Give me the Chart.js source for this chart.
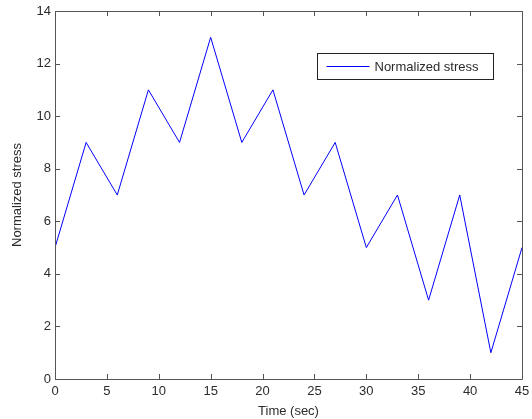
<!DOCTYPE html>
<html lang="en">
<head>
	<meta charset="utf-8">
	<title>Normalized stress</title>
	<script src="https://cdn.jsdelivr.net/npm/chart.js"></script>
	<style>
		html, body { margin: 0; padding: 0; background: #fff; }
		#wrap { width: 532px; height: 419px; }
	</style>
</head>
<body>
	<div id="wrap"><canvas id="stress"></canvas></div>
	<script>
		// sample times and stress readings
		const timeSec = [0, 3, 6, 9, 12, 15, 18, 21, 24, 27, 30, 33, 36, 39, 42, 45]
		const stressValues = [5, 9, 7, 11, 9, 13, 9, 11, 7, 9, 5, 7, 3, 7, 1, 5]
		const xTicks = [0, 5, 10, 15, 20, 25, 30, 35, 40, 45]
		const yTicks = [0, 2, 4, 6, 8, 10, 12, 14]

		const axisColor = '#555'
		const textColor = '#2b2b2b'
		const fontFamily = '"Liberation Sans", Arial, sans-serif'

		// box around the plot with little inward ticks on every side, plus the legend inside
		const frame = {
			id: 'frame',
			afterDatasetsDraw(chart) {
				const { ctx, chartArea: a, scales } = chart
				const tl = 5
				ctx.save()
				ctx.strokeStyle = axisColor
				ctx.lineWidth = 1
				ctx.beginPath()
				ctx.rect(Math.round(a.left) + 0.5, Math.round(a.top) + 0.5, Math.round(a.right - a.left), Math.round(a.bottom - a.top))
				xTicks.forEach(v => {
					const px = Math.round(scales.x.getPixelForValue(v)) + 0.5
					ctx.moveTo(px, a.bottom); ctx.lineTo(px, a.bottom - tl)
					ctx.moveTo(px, a.top); ctx.lineTo(px, a.top + tl)
				})
				yTicks.forEach(v => {
					const py = Math.round(scales.y.getPixelForValue(v)) + 0.5
					ctx.moveTo(a.left, py); ctx.lineTo(a.left + tl, py)
					ctx.moveTo(a.right, py); ctx.lineTo(a.right - tl, py)
				})
				ctx.stroke()

				// legend
				const ds = chart.data.datasets[0]
				const bx = Math.round(a.right - 205) + 0.5
				const by = Math.round(a.top + 42) + 0.5
				ctx.fillStyle = '#fff'
				ctx.fillRect(bx, by, 176, 26)
				ctx.strokeStyle = '#222'
				ctx.strokeRect(bx, by, 176, 26)
				ctx.strokeStyle = ds.borderColor
				ctx.beginPath()
				ctx.moveTo(bx + 9, by + 13)
				ctx.lineTo(bx + 52, by + 13)
				ctx.stroke()
				ctx.fillStyle = textColor
				ctx.font = '13px ' + fontFamily
				ctx.textBaseline = 'middle'
				ctx.fillText(ds.label, bx + 57, by + 13.5)
				ctx.restore()
			}
		}

		new Chart(document.getElementById('stress'), {
			type: 'line',
			data: {
				datasets: [{
					label: 'Normalized stress',
					data: timeSec.map((t, i) => ({ x: t, y: stressValues[i] })),
					borderColor: '#0000ff',
					borderWidth: 1,
					pointRadius: 0,
					tension: 0,
					fill: false
				}]
			},
			options: {
				responsive: true,
				maintainAspectRatio: false,
				animation: false,
				layout: { padding: { top: 11, right: 10, left: 0, bottom: 0 } },
				plugins: {
					legend: { display: false },
					tooltip: { enabled: false }
				},
				scales: {
					x: {
						type: 'linear',
						min: 0,
						max: 45,
						afterBuildTicks: s => { s.ticks = xTicks.map(v => ({ value: v })) },
						afterFit: s => { s.height = 40; s.paddingLeft = 0; s.paddingRight = 0 },
						grid: { display: false, drawTicks: false },
						border: { display: false },
						ticks: { color: textColor, padding: 5, font: { family: fontFamily, size: 13 }, maxRotation: 0 },
						title: { display: true, text: 'Time (sec)', color: textColor, padding: { top: 1, bottom: 0 }, font: { family: fontFamily, size: 13 } }
					},
					y: {
						min: 0,
						max: 14,
						afterBuildTicks: s => { s.ticks = yTicks.map(v => ({ value: v })) },
						afterFit: s => { s.width = 55; s.paddingTop = 0; s.paddingBottom = 0 },
						grid: { display: false, drawTicks: false },
						border: { display: false },
						ticks: { color: textColor, padding: 4, font: { family: fontFamily, size: 13 } },
						title: { display: true, text: 'Normalized stress', color: textColor, padding: { top: 10, bottom: 0 }, font: { family: fontFamily, size: 13 } }
					}
				}
			},
			plugins: [frame]
		})
	</script>
</body>
</html>
